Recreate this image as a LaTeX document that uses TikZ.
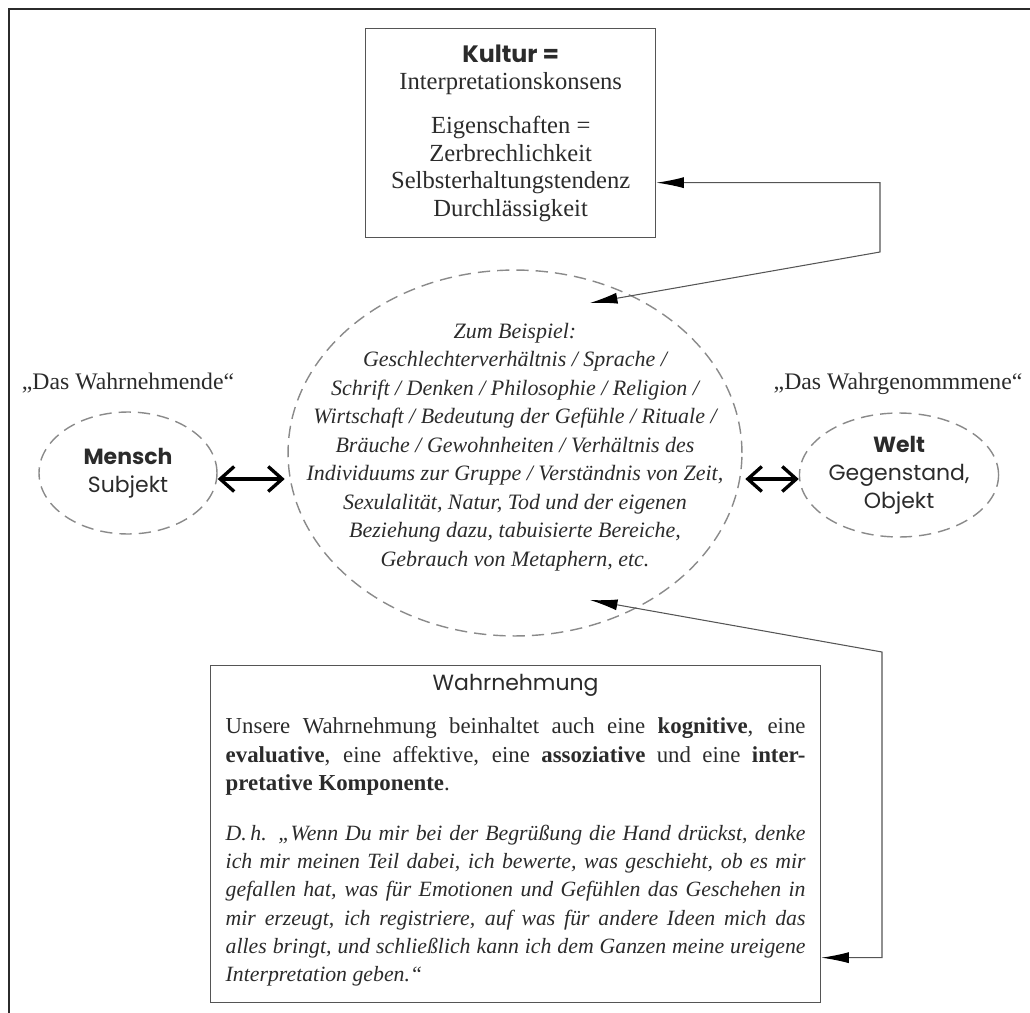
\documentclass[tikz,border=0pt]{standalone}
\usepackage{fontspec}
\setmainfont{Liberation Serif}
\setsansfont{Poppins}
\usetikzlibrary{arrows.meta,positioning,calc,shapes.geometric}
\definecolor{KulGrau}{HTML}{555555}
\definecolor{KulText}{HTML}{2B2B2B}
\definecolor{KulStrich}{HTML}{8A8A8A}

\begin{document}
\begin{tikzpicture}[x=0.02cm,y=-0.02cm,text=KulText,
  box/.style={draw=KulGrau,line width=0.8pt,anchor=north west},
  oval/.style={ellipse,draw=KulStrich,line width=0.8pt,dash pattern=on 7pt off 4pt,inner sep=0pt},
  pfeil/.style={{Latex[length=5.5mm,width=2.2mm,color=black]}-{Latex[length=5.5mm,width=2.2mm,color=black]},KulGrau,line width=0.6pt},
  dpfeil/.style={{Straight Barb[length=2.8mm,width=5mm]}-{Straight Barb[length=2.8mm,width=5mm]},black,line width=1.9pt}]
  \useasboundingbox (0,0) rectangle (1030,1013);
  \draw[KulText,line width=1.2pt] (9,1013) -- (9,9) -- (1030,9);
  \node[box,minimum width=5.8cm,minimum height=4.18cm,align=center,font=\fontsize{14}{15.6}\selectfont] (kultur) at (365,28)
    {{\sffamily\bfseries\fontsize{13.5}{15.6}\selectfont Kultur =}\\ Interpretationskonsens\\[0.33cm]
     Eigenschaften =\\ Zerbrechlichkeit\\ Selbsterhaltungstendenz\\ Durchlässigkeit};
  \node[oval,minimum width=9.08cm,minimum height=7.32cm] (bsp) at (515,453) {};
  \node[align=center,font=\itshape\fontsize{12.5}{16.2}\selectfont] (bsptext) at (515,447)
    {Zum Beispiel:\\ Geschlechterverhältnis / Sprache /\\ Schrift / Denken / Philosophie / Religion /\\
     Wirtschaft / Bedeutung der Gefühle / Rituale /\\ Bräuche / Gewohnheiten / Verhältnis des\\
     Individuums zur Gruppe / Verständnis von Zeit,\\ Sexulalität, Natur, Tod und der eigenen\\
     Beziehung dazu, tabuisierte Bereiche,\\ Gebrauch von Metaphern, etc.};
  \node[oval,minimum width=3.56cm,minimum height=2.44cm,align=center,font=\sffamily\fontsize{12.5}{16}\selectfont] (mensch) at (128,473)
    {\textbf{Mensch}\\Subjekt};
  \node[oval,minimum width=3.56cm,minimum height=2.48cm,align=center,font=\sffamily\fontsize{12.5}{16}\selectfont] (welt) at (899,475)
    {\textbf{Welt}\\Gegenstand,\\Objekt};
  \node[anchor=base,font=\fontsize{13.5}{16}\selectfont] (wnd) at (128,389) {„Das Wahrnehmende“};
  \node[anchor=base,font=\fontsize{13.5}{16}\selectfont] (wgn) at (898,389) {„Das Wahrgenommmene“};
  \node[box,text width=11.6cm,inner xsep=0.3cm,inner ysep=0.18cm,align=justify,font=\fontsize{13}{16.1}\selectfont] (wahr) at (210,665)
    {\setlength\parindent{0pt}\hyphenpenalty=10000
     \hbox to\hsize{\hfil\sffamily\fontsize{12.5}{15}\selectfont Wahrnehmung\hfil}\par\vspace{8.3pt}
     Unsere Wahrnehmung beinhaltet auch eine \textbf{kognitive}, eine\linebreak
     \textbf{evaluative}, eine affektive, eine \textbf{assoziative} und eine \textbf{inter-}\linebreak
     \textbf{pretative Komponente}.\par\vspace{12.3pt}
     {\itshape\fontsize{12.4}{16.1}\selectfont D.\,h. „Wenn Du mir bei der Begrüßung die Hand drückst, denke\linebreak
     ich mir meinen Teil dabei, ich bewerte, was geschieht, ob es mir\linebreak
     gefallen hat, was für Emotionen und Gefühlen das Geschehen in\linebreak
     mir erzeugt, ich registriere, auf was für andere Ideen mich das\linebreak
     alles bringt, und schließlich kann ich dem Ganzen meine ureigene\linebreak
     Interpretation geben.“\rule[-6.8pt]{0pt}{6.8pt}\par}};
  \coordinate (kr) at (880,252);
  \coordinate (wr) at (882,652);
  \draw[pfeil] ([yshift=-0.99cm]kultur.east) -| (kr) -- ($(bsp)+(75,-150)$);
  \draw[pfeil] ($(bsp)+(75,147)$) -- (wr) |- ([yshift=-2.47cm]wahr.east);
  \draw[dpfeil,shorten >=1.5pt] ($(mensch.east)+(0,6)$) -- ($(mensch.east -| bsp.west)+(0,6)$);
  \draw[dpfeil,shorten <=1.5pt] ($(bsp.east |- welt.west)+(0,4)$) -- ($(welt.west)+(0,4)$);
\end{tikzpicture}
\end{document}
